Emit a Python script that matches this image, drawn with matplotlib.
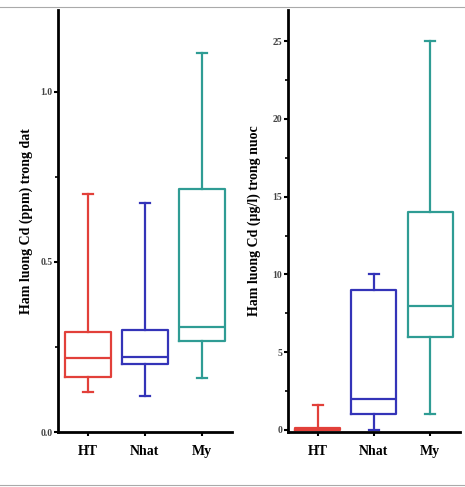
import matplotlib
matplotlib.use('Agg')
import matplotlib.pyplot as plt
from matplotlib.lines import Line2D

plt.rcParams['font.family'] = ['Liberation Serif', 'DejaVu Serif']
plt.rcParams['font.weight'] = 'bold'

sites = ['HT', 'Nhat', 'My']
colors = ['#e2403a', '#3434b8', '#2f9c94']

# soil Cd (ppm): whisker low, Q1, median, Q3, whisker high
soil_low = [0.118, 0.107, 0.158]
soil_q1 = [0.163, 0.200, 0.268]
soil_med = [0.217, 0.220, 0.310]
soil_q3 = [0.294, 0.300, 0.714]
soil_high = [0.700, 0.674, 1.115]

# water Cd (ug/l)
water_low = [0.0, 0.0, 1.0]
water_q1 = [0.0, 1.0, 6.0]
water_med = [0.05, 2.0, 8.0]
water_q3 = [0.15, 9.0, 14.0]
water_high = [1.6, 10.0, 25.0]


def make_stats(low, q1, med, q3, high):
    return [dict(whislo=a, q1=b, med=c, q3=d, whishi=e, fliers=[], label=s)
            for a, b, c, d, e, s in zip(low, q1, med, q3, high, sites)]


def draw_panel(ax, stats, ylabel, ylim, major, minor, labelpad):
    bp = ax.bxp(stats, positions=[1, 2, 3], widths=0.8, showfliers=False,
                patch_artist=False)
    for i, c in enumerate(colors):
        bp['boxes'][i].set(color=c, linewidth=1.6)
        bp['medians'][i].set(color=c, linewidth=1.6)
        for j in (2 * i, 2 * i + 1):
            bp['whiskers'][j].set(color=c, linewidth=1.6)
            bp['caps'][j].set(color=c, linewidth=1.6)
            xd = bp['caps'][j].get_xdata()
            mid = (xd[0] + xd[1]) / 2
            bp['caps'][j].set_xdata([mid - 0.09, mid + 0.09])
    ax.set_xlim(0.47, 3.53)
    ax.set_ylim(*ylim)
    ax.set_yticks(major)
    ax.set_yticks(minor, minor=True)
    for s in ('top', 'right'):
        ax.spines[s].set_visible(False)
    for s in ('left', 'bottom'):
        ax.spines[s].set_linewidth(2)
    ax.tick_params(axis='y', which='major', length=3, width=1.5, labelsize=7, pad=1,
                   labelcolor='#444444')
    ax.tick_params(axis='y', which='minor', length=2, width=1.2)
    ax.tick_params(axis='x', length=3, width=1.5, labelsize=10, pad=6)
    for lab in ax.get_xticklabels() + ax.get_yticklabels():
        lab.set_fontweight('bold')
    ax.set_ylabel(ylabel, fontsize=10, fontweight='bold', labelpad=labelpad)


fig = plt.figure(figsize=(4.65, 4.87), dpi=100)

ax1 = fig.add_axes([0.1247, 0.1129, 0.374, 0.8665])
draw_panel(ax1, make_stats(soil_low, soil_q1, soil_med, soil_q3, soil_high),
           'Ham luong Cd (ppm) trong dat', (0, 1.24),
           [0.0, 0.5, 1.0], [0.25, 0.75], 5)
ax1.set_yticklabels(['0.0', '0.5', '1.0'])

ax2 = fig.add_axes([0.619, 0.1129, 0.37, 0.8665])
draw_panel(ax2, make_stats(water_low, water_q1, water_med, water_q3, water_high),
           'Ham luong Cd (\u00b5g/l) trong nuoc', (-0.13, 27),
           [0, 5, 10, 15, 20, 25], [2.5, 7.5, 12.5, 17.5, 22.5], 8)

# thin gray frame lines of the original scan
fig.add_artist(Line2D([0, 1], [1 - 7 / 487, 1 - 7 / 487], color='#aaaaaa', lw=0.8))
fig.add_artist(Line2D([0, 1], [2 / 487, 2 / 487], color='#aaaaaa', lw=0.8))

fig.savefig('out.png', dpi=100)
